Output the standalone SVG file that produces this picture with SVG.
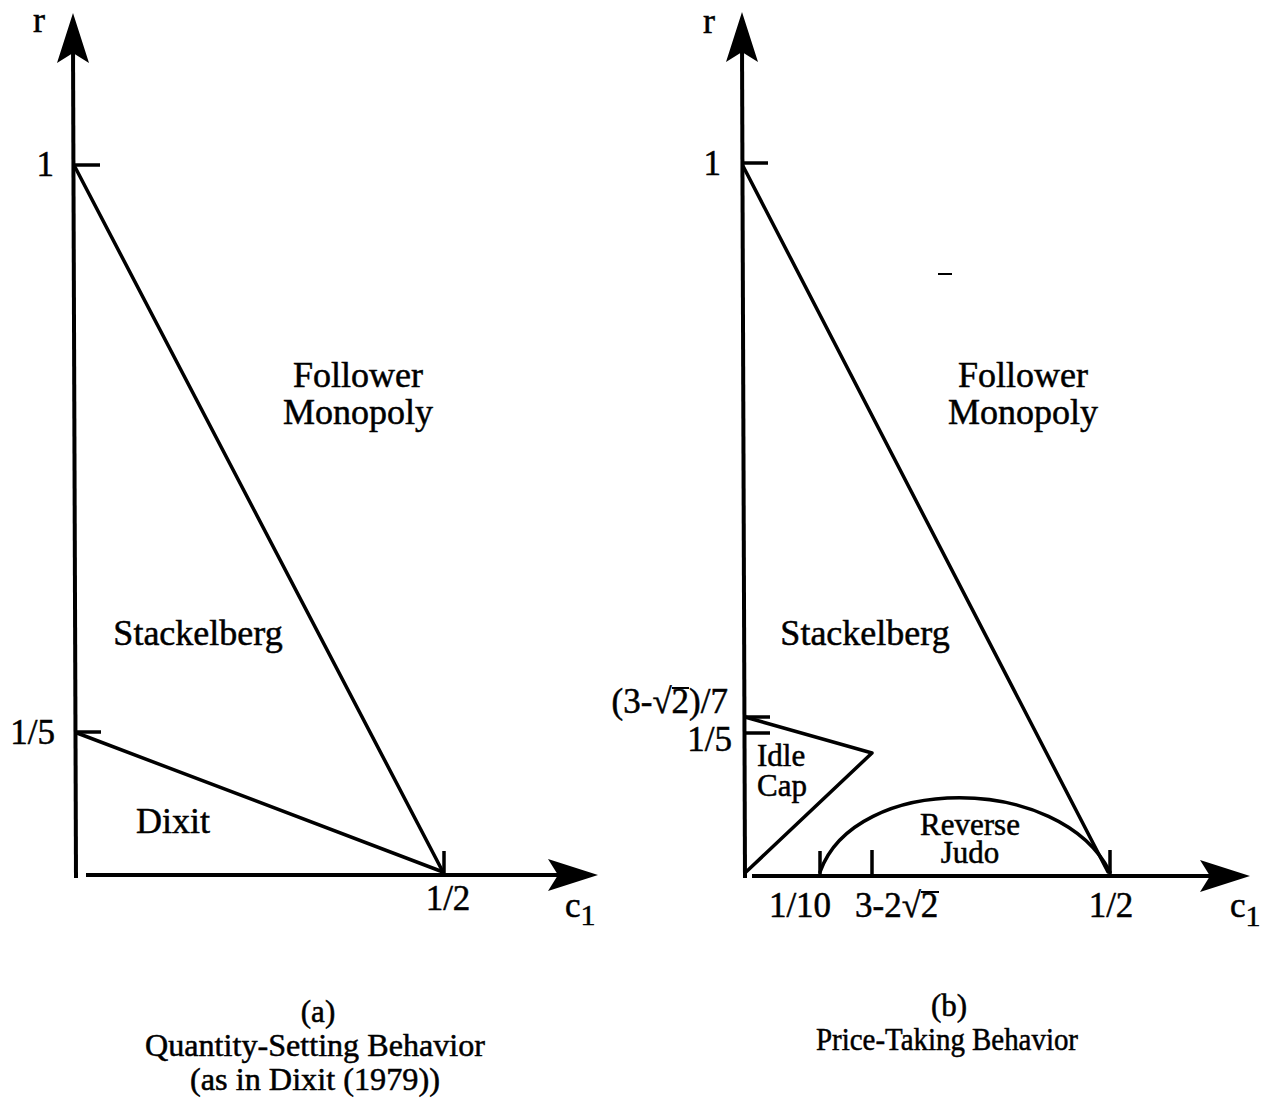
<svg xmlns="http://www.w3.org/2000/svg" xmlns:xlink="http://www.w3.org/1999/xlink" width="1262" height="1104" viewBox="0 0 1262 1104">
<style>
  .ax { stroke:#000; stroke-width:4; fill:none; stroke-linecap:butt; }
  .ln { stroke:#000; stroke-width:3.5; fill:none; stroke-linecap:round; stroke-linejoin:round; }
  .tk { stroke:#000; stroke-width:3.5; fill:none; }
  .vin { stroke:#000; stroke-width:2; }
  text { font-family:"Liberation Serif","Times New Roman",serif; fill:#000; stroke:#000; stroke-width:0.5; }
  .lbl { font-size:36px; }
  .sm { font-size:31px; }
  .num { font-size:35px; }
  .cap { font-size:31px; text-anchor:middle; }
  .mid { text-anchor:middle; }
  .end { text-anchor:end; }
</style>
<defs>
  <path id="ah" d="M0,0 L-50,-16 L-40,0 L-50,16 Z" fill="#000"/>
</defs>
<rect width="1262" height="1104" fill="#fff"/>

<g id="panel-a">
  <g id="axes-a">
    <line class="ax" x1="73" y1="45" x2="76" y2="878"/>
    <use xlink:href="#ah" href="#ah" transform="translate(73,13) rotate(-90)"/>
    <line class="ax" x1="86" y1="875" x2="560" y2="875"/>
    <use xlink:href="#ah" href="#ah" transform="translate(598,875)"/>
    <line class="tk" x1="75" y1="165" x2="100" y2="165"/>
    <line class="tk" x1="77" y1="732" x2="101" y2="732"/>
    <line class="tk" x1="444" y1="851" x2="444" y2="875"/>
  </g>
  <g id="boundaries-a">
    <line class="ln" x1="75" y1="167" x2="443" y2="872"/>
    <line class="ln" x1="77" y1="733" x2="443" y2="872"/>
  </g>
  <g id="labels-a">
    <text class="lbl" x="33" y="32">r</text>
    <text class="num end" x="54" y="176">1</text>
    <text class="num end" x="55" y="744">1/5</text>
    <text class="num mid" x="448" y="910">1/2</text>
    <text class="num" x="565" y="917">c<tspan dy="8" font-size="30">1</tspan></text>
    <text class="lbl mid" x="358" y="387">Follower</text>
    <text class="lbl mid" x="358" y="424">Monopoly</text>
    <text class="lbl mid" x="198" y="645">Stackelberg</text>
    <text class="lbl mid" x="173" y="833">Dixit</text>
  </g>
  <g id="caption-a">
    <text class="cap" x="318" y="1022">(a)</text>
    <text class="cap" x="315" y="1056" textLength="340" lengthAdjust="spacingAndGlyphs">Quantity-Setting Behavior</text>
    <text class="cap" x="315" y="1090" textLength="250" lengthAdjust="spacingAndGlyphs">(as in Dixit (1979))</text>
  </g>
</g>

<g id="panel-b">
  <g id="axes-b">
    <line class="ax" x1="742" y1="45" x2="745" y2="878"/>
    <use xlink:href="#ah" href="#ah" transform="translate(742,12) rotate(-90)"/>
    <line class="ax" x1="752" y1="876" x2="1212" y2="876"/>
    <use xlink:href="#ah" href="#ah" transform="translate(1250,876)"/>
    <line class="tk" x1="743" y1="163" x2="768" y2="163"/>
    <line class="tk" x1="745" y1="717" x2="770" y2="717"/>
    <line class="tk" x1="745" y1="733" x2="770" y2="733"/>
    <line class="tk" x1="820" y1="851" x2="820" y2="876"/>
    <line class="tk" x1="872" y1="850" x2="872" y2="874"/>
    <line class="tk" x1="1110" y1="850" x2="1110" y2="876"/>
  </g>
  <g id="boundaries-b">
    <line class="ln" x1="743" y1="166" x2="1108" y2="872"/>
    <polyline class="ln" points="745,717 872,753 746,872"/>
    <path class="ln" d="M820,872 C855,773 1060,773 1110,872"/>
  </g>
  <g id="labels-b">
    <text class="lbl" x="703" y="33">r</text>
    <text class="num end" x="721" y="175">1</text>
    <text class="num end" x="728" y="713">(3-√2)/7</text>
    <line class="vin" x1="672" y1="688" x2="689" y2="688"/>
    <text class="num end" x="732" y="751">1/5</text>
    <text class="num mid" x="800" y="917">1/10</text>
    <text class="num" x="855" y="917">3-2√2</text>
    <line class="vin" x1="921" y1="892" x2="939" y2="892"/>
    <text class="num mid" x="1111" y="917">1/2</text>
    <text class="num" x="1230" y="917">c<tspan dy="9" font-size="30">1</tspan></text>
    <text class="lbl mid" x="1023" y="387">Follower</text>
    <text class="lbl mid" x="1023" y="424">Monopoly</text>
    <text class="lbl mid" x="865" y="645">Stackelberg</text>
    <text class="sm"><tspan x="757" y="766">Idle</tspan><tspan x="757" y="796">Cap</tspan></text>
    <text class="sm mid"><tspan x="970" y="835">Reverse</tspan><tspan x="970" y="863">Judo</tspan></text>
  </g>
  <g id="caption-b">
    <text class="cap" x="949" y="1016">(b)</text>
    <text class="cap" x="947" y="1050" textLength="262" lengthAdjust="spacingAndGlyphs">Price-Taking Behavior</text>
  </g>
  <line x1="938" y1="274" x2="952" y2="274" stroke="#000" stroke-width="2"/>
</g>
</svg>
